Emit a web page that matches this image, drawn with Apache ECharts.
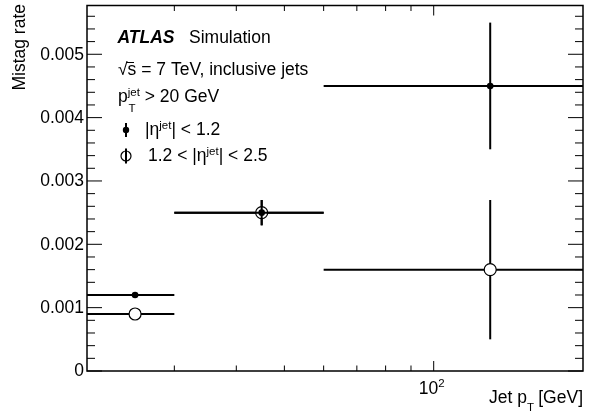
<!DOCTYPE html>
<html><head><meta charset="utf-8">
<script src="https://cdn.jsdelivr.net/npm/echarts@6/dist/echarts.min.js"></script>
<style>html,body{margin:0;padding:0;background:#fff}#c{width:596px;height:412px}</style>
</head><body><div id="c"></div>
<script>
// ---- data ----
const binLow = [20, 30, 60];
const binHigh = [30, 60, 200];
const binCenter = [25, 45, 130];
const rateCentral = [0.0012, 0.0025, 0.0045];      // |eta| < 1.2 (filled)
const errCentral = [0.00002, 0.0002, 0.001];
const rateForward = [0.0009, 0.0025, 0.0016];      // 1.2 < |eta| < 2.5 (open)
const errForward = [0.00002, 0.0002, 0.0011];
// ---- axes / ticks ----
const X_MIN = 20, X_MAX = 200, Y_MIN = 0, Y_MAX = 0.00577;
const yMajorTicks = [0, 0.001, 0.002, 0.003, 0.004, 0.005];
const yTickLabels = ['0', '0.001', '0.002', '0.003', '0.004', '0.005'];
const yMinorTicks = [0.0002, 0.0004, 0.0006, 0.0008, 0.0012, 0.0014, 0.0016, 0.0018,
  0.0022, 0.0024, 0.0026, 0.0028, 0.0032, 0.0034, 0.0036, 0.0038,
  0.0042, 0.0044, 0.0046, 0.0048, 0.0052, 0.0054, 0.0056];
const xMajorTicks = [100];
const xTickBase = ['10'];
const xTickExp = ['2'];
const xMinorTicks = [30, 40, 50, 60, 70, 80, 90];

const FONT = "'Liberation Sans', Arial, Helvetica, sans-serif";
const FS = 17.5;

// build tick items
const tickItems = [];
yMajorTicks.forEach((v, i) => tickItems.push({ kind: 'yMaj', v, label: yTickLabels[i] }));
yMinorTicks.forEach(v => tickItems.push({ kind: 'yMin', v }));
xMajorTicks.forEach((v, i) => tickItems.push({ kind: 'xMaj', v, base: xTickBase[i], exp: xTickExp[i] }));
xMinorTicks.forEach(v => tickItems.push({ kind: 'xMin', v }));
const tickData = tickItems.map(t => (t.kind[0] === 'y') ? [X_MIN, t.v] : [t.v, Y_MIN]);

function tickRender(params, api) {
  const t = tickItems[params.dataIndex];
  const st = { stroke: '#000', lineWidth: 1 };
  const ch = [];
  if (t.kind[0] === 'y') {
    const pL = api.coord([X_MIN, t.v]);
    const pR = api.coord([X_MAX, t.v]);
    const len = t.kind === 'yMaj' ? 15 : 8;
    ch.push({ type: 'line', shape: { x1: pL[0], y1: pL[1], x2: pL[0] + len, y2: pL[1] }, style: st });
    ch.push({ type: 'line', shape: { x1: pR[0], y1: pR[1], x2: pR[0] - len, y2: pR[1] }, style: st });
    if (t.kind === 'yMaj') {
      ch.push({ type: 'text', x: pL[0] - 3, y: pL[1] + 0.5,
        style: { text: t.label, fill: '#000', font: FS + 'px ' + FONT, align: 'right', verticalAlign: 'middle' } });
    }
  } else {
    const pB = api.coord([t.v, Y_MIN]);
    const pT = api.coord([t.v, Y_MAX]);
    const len = t.kind === 'xMaj' ? 10 : 5.5;
    ch.push({ type: 'line', shape: { x1: pB[0], y1: pB[1], x2: pB[0], y2: pB[1] - len }, style: st });
    ch.push({ type: 'line', shape: { x1: pT[0], y1: pT[1], x2: pT[0], y2: pT[1] + len }, style: st });
    if (t.kind === 'xMaj') {
      ch.push({ type: 'text', x: pB[0] - 2, y: pB[1] + 18,
        style: { text: '{b|' + t.base + '}{s|' + t.exp + '}', fill: '#000', align: 'center', verticalAlign: 'middle',
          rich: { b: { fontSize: FS, fontFamily: FONT, lineHeight: 22 },
                  s: { fontSize: 11.5, fontFamily: FONT, lineHeight: 11, verticalAlign: 'top' } } } });
    }
  }
  return { type: 'group', children: ch };
}

function makeRender(open) {
  return function (params, api) {
    const xc = api.value(0), y = api.value(1), lo = api.value(2), hi = api.value(3), e = api.value(4);
    const pc = api.coord([xc, y]);
    const pl = api.coord([lo, y]);
    const ph = api.coord([hi, y]);
    const pt = api.coord([xc, y + e]);
    const pb = api.coord([xc, y - e]);
    const ls = { stroke: '#000', lineWidth: 2 };
    const ch = [
      { type: 'line', shape: { x1: pl[0], y1: pl[1], x2: ph[0], y2: ph[1] }, style: ls },
      { type: 'line', shape: { x1: pt[0], y1: pt[1], x2: pb[0], y2: pb[1] }, style: ls },
      open ? { type: 'circle', shape: { cx: pc[0], cy: pc[1], r: 6 }, style: { fill: '#fff', stroke: '#000', lineWidth: 1.2 } }
           : { type: 'circle', shape: { cx: pc[0], cy: pc[1], r: 3.3 }, style: { fill: '#000' } }
    ];
    return { type: 'group', children: ch };
  };
}

const dataForward = binCenter.map((c, i) => [c, rateForward[i], binLow[i], binHigh[i], errForward[i]]);
const dataCentral = binCenter.map((c, i) => [c, rateCentral[i], binLow[i], binHigh[i], errCentral[i]]);

const txt = (x, y, text, extra, elExtra) => Object.assign({ type: 'text', x, y, silent: true,
  style: Object.assign({ text, fill: '#000', font: FS + 'px ' + FONT, align: 'left', verticalAlign: 'middle' }, extra || {}) }, elExtra || {});
const richSup = { s: { fontSize: 11.5, fontFamily: FONT, lineHeight: 11, verticalAlign: 'top' } };

const chart = echarts.init(document.getElementById('c'), null, { renderer: 'canvas' });
chart.setOption({
  animation: false,
  backgroundColor: '#fff',
  grid: { left: 87, right: 13, top: 5.5, bottom: 41, show: true, borderColor: '#000', borderWidth: 1.5, backgroundColor: 'transparent' },
  xAxis: { type: 'log', logBase: 10, min: X_MIN, max: X_MAX,
    axisLine: { show: false }, axisTick: { show: false }, axisLabel: { show: false }, splitLine: { show: false } },
  yAxis: { type: 'value', min: Y_MIN, max: Y_MAX,
    axisLine: { show: false }, axisTick: { show: false }, axisLabel: { show: false }, splitLine: { show: false } },
  series: [
    { type: 'custom', name: 'ticks', data: tickData, renderItem: tickRender, clip: false, silent: true, z: 5 },
    { type: 'custom', name: '1.2 < |eta| < 2.5', data: dataForward, renderItem: makeRender(true), clip: false, z: 10 },
    { type: 'custom', name: '|eta| < 1.2', data: dataCentral, renderItem: makeRender(false), clip: false, z: 11 }
  ],
  graphic: [
    txt(20, 4, 'Mistag rate', { align: 'right' }, { rotation: Math.PI / 2 }),
    txt(117.5, 38, 'ATLAS', { font: 'italic bold ' + FS + 'px ' + FONT }),
    txt(189, 38, 'Simulation'),
    txt(118, 70, '√s = 7 TeV, inclusive jets'),
    { type: 'line', silent: true, shape: { x1: 126.5, y1: 62.5, x2: 134, y2: 62.5 }, style: { stroke: '#000', lineWidth: 1 } },
    txt(118, 97.5, 'p{s|jet} > 20 GeV', { lineHeight: 22, rich: richSup }),
    txt(128.5, 109, 'T', { font: '11.5px ' + FONT }),
    // legend entry 1: filled
    { type: 'line', silent: true, shape: { x1: 126, y1: 123, x2: 126, y2: 137 }, style: { stroke: '#000', lineWidth: 2 } },
    { type: 'circle', silent: true, shape: { cx: 126, cy: 130, r: 3.2 }, style: { fill: '#000' } },
    txt(145, 130.5, '|η{s|jet}| < 1.2', { lineHeight: 22, rich: richSup }),
    // legend entry 2: open
    { type: 'circle', silent: true, shape: { cx: 126, cy: 156, r: 5 }, style: { fill: '#fff', stroke: '#000', lineWidth: 1.2 } },
    { type: 'line', silent: true, shape: { x1: 126, y1: 148.5, x2: 126, y2: 163.5 }, style: { stroke: '#000', lineWidth: 2 } },
    txt(148, 156.5, '1.2 < |η{s|jet}| < 2.5', { lineHeight: 22, rich: richSup }),
    // x axis title
    txt(527, 398, 'Jet p', { align: 'right' }),
    txt(527, 407.5, 'T', { font: '11.5px ' + FONT }),
    txt(583, 398, '[GeV]', { align: 'right' })
  ]
});
</script>
</body></html>
